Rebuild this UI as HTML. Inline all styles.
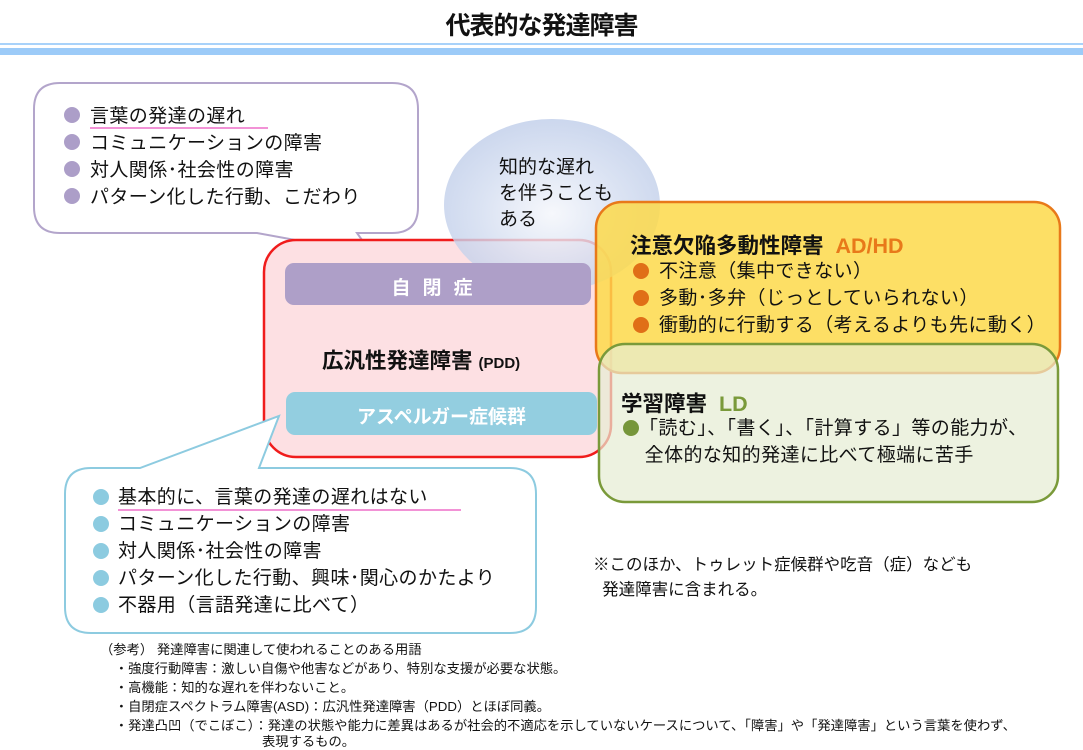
<!DOCTYPE html>
<html><head><meta charset="utf-8">
<style>
body{margin:0;width:1083px;height:750px;background:#fff;position:relative;overflow:hidden;font-family:"Liberation Sans","Noto Sans CJK JP",sans-serif;color:#111}
.t{position:absolute;white-space:nowrap}
.b{position:absolute;border-radius:50%;width:16px;height:16px}
.s{letter-spacing:0.4px}
</style></head><body>
<svg width="1083" height="750" style="position:absolute;left:0;top:0">
<defs>
<radialGradient id="g" cx="0.5" cy="0.55" r="0.55">
<stop offset="0" stop-color="#f4f6fb"/><stop offset="0.6" stop-color="#d2dcf0"/><stop offset="1" stop-color="#bfcde9"/>
</radialGradient>
</defs>
<rect x="0" y="43" width="1083" height="2" fill="#a8d2fa"/>
<rect x="0" y="48" width="1083" height="7" fill="#9ccbf8"/>
<path d="M60 83 H392 Q418 83 418 109 V207 Q418 233 392 233 H357 L372 254 L257 233 H60 Q34 233 34 207 V109 Q34 83 60 83 Z" fill="#fff" stroke="#b3a5cb" stroke-width="2"/>
<rect x="264" y="240" width="347" height="217" rx="32" fill="#fde0e3" stroke="#f01c1c" stroke-width="2.5"/>
<ellipse cx="552" cy="205" rx="108" ry="86" fill="url(#g)" opacity="0.8"/>
<rect x="285" y="263" width="306" height="42" rx="9" fill="#ae9fc8"/>
<rect x="286" y="392" width="311" height="43" rx="9" fill="#93cee0"/>
<rect x="596" y="202" width="464" height="171" rx="26" fill="#fdd94a" fill-opacity="0.85" stroke="#e8791a" stroke-width="2.5"/>
<rect x="599" y="344" width="459" height="158" rx="26" fill="#e6edd3" fill-opacity="0.7" stroke="#7a9a3a" stroke-width="2.5"/>
<path d="M91 468 H140 L279 416 L259 468 H510 Q536 468 536 494 V607 Q536 633 510 633 H91 Q65 633 65 607 V494 Q65 468 91 468 Z" fill="#fff" stroke="#8dcbe0" stroke-width="2"/>
<line x1="90" y1="128" x2="268" y2="128" stroke="#ee6fc8" stroke-width="1.5"/>
<line x1="118" y1="510" x2="461" y2="510" stroke="#ee6fc8" stroke-width="1.5"/>
</svg>
<div class="t" style="left:0;width:1083px;text-align:center;top:6px;font-size:25px;font-weight:bold;letter-spacing:-1px">代表的な発達障害</div>

<div class="b" style="left:64px;top:107px;background:#ac9ec8"></div>
<div class="b" style="left:64px;top:134px;background:#ac9ec8"></div>
<div class="b" style="left:64px;top:161px;background:#ac9ec8"></div>
<div class="b" style="left:64px;top:188px;background:#ac9ec8"></div>
<div class="t s" style="left:90px;top:103px;font-size:19px;line-height:27px">言葉の発達の遅れ<br>コミュニケーションの障害<br>対人関係･社会性の障害<br>パターン化した行動、こだわり</div>

<div class="t" style="left:499px;top:155px;font-size:19px;line-height:26px">知的な遅れ<br>を伴うことも<br>ある</div>

<div class="t" style="left:285px;width:306px;text-align:center;top:273px;font-size:19px;font-weight:bold;color:#fff;letter-spacing:12px">自閉症</div>
<div class="t" style="left:322px;top:344px;font-size:21.5px;font-weight:bold">広汎性発達障害 <span style="font-size:15px">(PDD)</span></div>
<div class="t" style="left:286px;width:311px;text-align:center;top:402px;font-size:19px;font-weight:bold;color:#fff">アスペルガー症候群</div>

<div class="t" style="left:630px;top:229px;font-size:21.5px;font-weight:bold">注意欠陥多動性障害 <span style="color:#e8791a;margin-left:6px">AD/HD</span></div>
<div class="b" style="left:633px;top:263px;background:#e06f17"></div>
<div class="b" style="left:633px;top:290px;background:#e06f17"></div>
<div class="b" style="left:633px;top:317px;background:#e06f17"></div>
<div class="t s" style="left:659px;top:258px;font-size:19px;line-height:27px">不注意（集中できない）<br>多動･多弁（じっとしていられない）<br>衝動的に行動する（考えるよりも先に動く）</div>

<div class="t" style="left:621px;top:387px;font-size:21.5px;font-weight:bold">学習障害 <span style="color:#7a9a3a;margin-left:6px">LD</span></div>
<div class="b" style="left:623px;top:420px;background:#76963a"></div>
<div class="t s" style="left:639px;top:415px;font-size:19px;line-height:27px">「読む」、「書く」、「計算する」等の能力が、<br>&nbsp;全体的な知的発達に比べて極端に苦手</div>

<div class="b" style="left:93px;top:489px;background:#8ccbe0"></div>
<div class="b" style="left:93px;top:516px;background:#8ccbe0"></div>
<div class="b" style="left:93px;top:543px;background:#8ccbe0"></div>
<div class="b" style="left:93px;top:570px;background:#8ccbe0"></div>
<div class="b" style="left:93px;top:597px;background:#8ccbe0"></div>
<div class="t s" style="left:118px;top:484px;font-size:19px;line-height:27px">基本的に、言葉の発達の遅れはない<br>コミュニケーションの障害<br>対人関係･社会性の障害<br>パターン化した行動、興味･関心のかたより<br>不器用（言語発達に比べて）</div>

<div class="t" style="left:593px;top:553px;font-size:16.5px;line-height:25px">※このほか、トゥレット症候群や吃音（症）なども<br>&nbsp;&nbsp;発達障害に含まれる。</div>

<div class="t" style="left:100px;top:640px;font-size:13.3px;line-height:19px">（参考） 発達障害に関連して使われることのある用語<br>
&nbsp;&nbsp;&nbsp;&nbsp;・強度行動障害：激しい自傷や他害などがあり、特別な支援が必要な状態。<br>
&nbsp;&nbsp;&nbsp;&nbsp;・高機能：知的な遅れを伴わないこと。<br>
&nbsp;&nbsp;&nbsp;&nbsp;・自閉症スペクトラム障害(ASD)：広汎性発達障害（PDD）とほぼ同義。<br>
&nbsp;&nbsp;&nbsp;&nbsp;・発達凸凹（でこぼこ）：発達の状態や能力に差異はあるが社会的不適応を示していないケースについて、「障害」や「発達障害」という言葉を使わず、</div>
<div class="t" style="left:262px;top:734px;font-size:13.3px;line-height:15px">表現するもの。</div>
</body></html>
